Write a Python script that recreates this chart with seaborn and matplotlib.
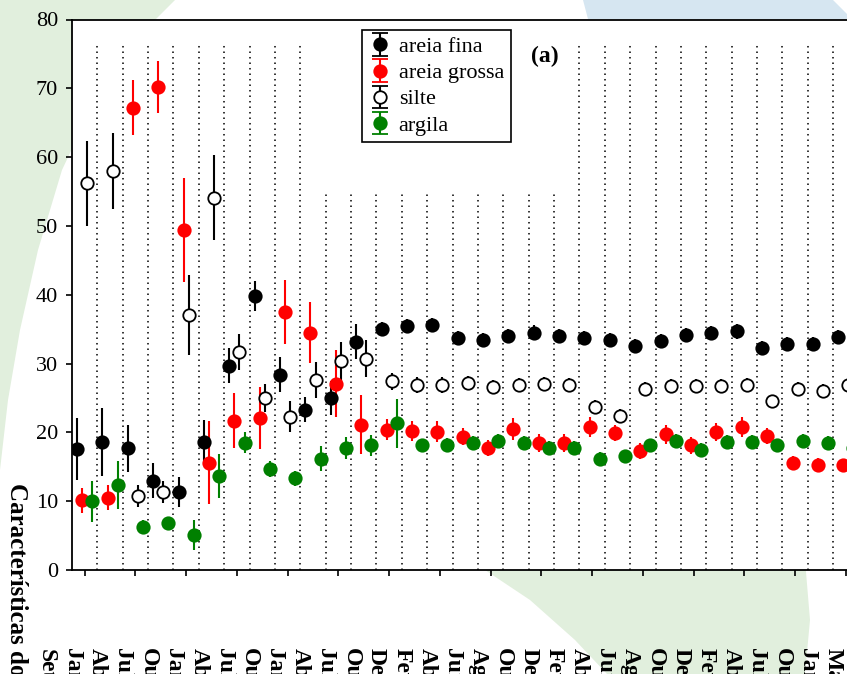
import numpy as np
import pandas as pd
import matplotlib
matplotlib.use("Agg")
import matplotlib.pyplot as plt
import seaborn as sns
from matplotlib.patches import Polygon
from matplotlib.transforms import blended_transform_factory

# ---------------- data ----------------
campaign_labels = ["Jan", "Abr", "Jul", "Out", "Jan", "Abr", "Jul", "Out", "Jan", "Abr",
                   "Jul", "Out", "Dez", "Fev", "Abr", "Jun", "Ago", "Out", "Dez", "Fev",
                   "Abr", "Jun", "Ago", "Out", "Dez", "Fev", "Abr", "Jul", "Out", "Jan", "Mar"]
first_label = "Set"

areia_fina = [17.6, 18.6, 17.7, 13.0, 11.3, 18.6, 29.7, 39.8, 28.4, 23.3, 25.0,
              33.2, 35.0, 35.5, 35.6, 33.7, 33.4, 34.0, 34.5, 34.0, 33.7,
              33.4, 32.6, 33.3, 34.2, 34.4, 34.7, 32.3, 32.9, 32.8, 33.9]
areia_fina_err = [4.5, 4.9, 3.4, 2.6, 2.2, 3.2, 2.5, 2.2, 2.6, 1.8, 2.5,
                  2.6, 1.0, 1.0, 1.0, 1.0, 1.0, 1.0, 1.1, 1.0, 1.0,
                  1.0, 1.0, 1.0, 1.0, 1.0, 1.1, 1.0, 1.0, 1.0, 1.0]

areia_grossa = [10.1, 10.5, 67.2, 70.2, 49.4, 15.6, 21.7, 22.1, 37.5, 34.5, 27.1,
                21.1, 20.4, 20.2, 20.1, 19.4, 17.7, 20.5, 18.5, 18.5, 20.8,
                19.9, 17.3, 19.7, 18.1, 20.1, 20.8, 19.5, 15.6, 15.3, 15.2]
areia_grossa_err = [1.8, 1.8, 4.0, 3.8, 7.5, 6.0, 4.0, 4.5, 4.7, 4.4, 4.9,
                    4.3, 1.5, 1.5, 1.5, 1.2, 1.2, 1.6, 1.3, 1.3, 1.5,
                    1.2, 1.2, 1.4, 1.2, 1.3, 1.4, 1.2, 1.0, 1.0, 1.0]

silte = [56.2, 58.0, 10.8, 11.4, 37.0, 54.1, 31.7, 25.0, 22.3, 27.6, 30.3,
         30.7, 27.4, 26.9, 26.9, 27.2, 26.6, 26.9, 27.1, 26.9, 23.7,
         22.4, 26.3, 26.8, 26.7, 26.7, 26.9, 24.5, 26.3, 26.0, 26.9]
silte_err = [6.2, 5.5, 1.6, 1.6, 5.8, 6.2, 2.6, 2.1, 2.2, 2.6, 2.8,
             2.7, 1.3, 1.2, 1.2, 1.0, 1.0, 1.0, 1.0, 1.0, 1.0,
             1.0, 1.0, 1.0, 1.0, 1.0, 1.0, 1.0, 1.0, 1.0, 1.0]

argila = [10.0, 12.4, 6.3, 6.8, 5.1, 13.6, 18.5, 14.7, 13.3, 16.2, 17.8,
          18.1, 21.3, 18.1, 18.2, 18.5, 18.8, 18.5, 17.8, 17.8, 16.1,
          16.5, 18.1, 18.8, 17.4, 18.6, 18.6, 18.1, 18.8, 18.5, 17.7]
argila_err = [3.0, 3.5, 0.9, 0.8, 2.2, 3.2, 1.5, 1.2, 1.1, 1.8, 1.6,
              1.5, 3.6, 1.0, 1.0, 1.0, 1.0, 1.0, 1.0, 1.0, 1.0,
              1.0, 1.0, 1.0, 1.0, 1.0, 1.0, 1.0, 1.0, 1.0, 1.0]

series_names = ["areia fina", "areia grossa", "silte", "argila"]

# ---------------- style ----------------
sns.set_theme(style="ticks")
plt.rcParams["font.family"] = ["Liberation Serif", "DejaVu Serif"]
plt.rcParams["axes.edgecolor"] = "black"
plt.rcParams["xtick.color"] = "black"
plt.rcParams["ytick.color"] = "black"
plt.rcParams["text.color"] = "black"

W, H = 847, 674
fig = plt.figure(figsize=(W / 100, H / 100), dpi=100)
fig.patch.set_facecolor("white")


def px(points):
    return [(x / W, 1 - y / H) for x, y in points]


green_wm = "#e1efdd"
blue_wm = "#d6e6f1"
fig.add_artist(Polygon(px([(0, 0), (175, 0), (130, 45), (95, 100), (62, 170), (38, 250),
                           (20, 330), (8, 400), (0, 470)]),
                       closed=True, fc=green_wm, ec="none", zorder=-5,
                       transform=fig.transFigure))
fig.add_artist(Polygon(px([(470, 560), (530, 600), (575, 640), (607, 674), (805, 674),
                           (810, 620), (805, 560)]),
                       closed=True, fc=green_wm, ec="none", zorder=-5,
                       transform=fig.transFigure))
fig.add_artist(Polygon(px([(583, 0), (588, 19), (847, 19), (847, 14), (833, 0)]),
                       closed=True, fc=blue_wm, ec="none", zorder=-5,
                       transform=fig.transFigure))

unit = 25.37
ax = fig.add_axes([72 / W, (H - 570) / H, 31 * unit / W, (570 - 19.5) / H])
ax.set_facecolor("white")

# dotted separators between campaigns
for b in range(1, len(campaign_labels)):
    top = 55.0 if 10 <= b <= 19 else 76.5
    ax.vlines(b, 0, top, colors="black", linestyles=(0, (1, 2.6)),
              linewidth=1.1, zorder=1)

x_idx = np.arange(len(areia_fina))
styles = {
    "areia fina": dict(vals=areia_fina, errs=areia_fina_err, off=0.2, face="black", edge="black"),
    "areia grossa": dict(vals=areia_grossa, errs=areia_grossa_err, off=0.4, face="red", edge="red"),
    "silte": dict(vals=silte, errs=silte_err, off=0.6, face="white", edge="black"),
    "argila": dict(vals=argila, errs=argila_err, off=0.8, face="#008000", edge="#008000"),
}

handles = []
for name in series_names:
    st = styles[name]
    xs = x_idx + st["off"]
    ax.errorbar(xs, st["vals"], yerr=st["errs"], fmt="none", ecolor=st["edge"],
                elinewidth=1.5, capsize=0, zorder=2)
    df = pd.DataFrame({"x": xs, "y": st["vals"]})
    sns.scatterplot(data=df, x="x", y="y", ax=ax, s=80, color=st["face"],
                    edgecolor=st["edge"], linewidth=1.3, zorder=3, legend=False)
    h = ax.errorbar([np.nan], [np.nan], yerr=[1.0], fmt="o", color=st["edge"],
                    mfc=st["face"], mec=st["edge"], ms=9, mew=1.3, capsize=6,
                    elinewidth=1.5, capthick=1.5, label=name)
    handles.append(h)

ax.set_xlim(0, 31)
ax.set_ylim(0, 80)
ax.set_xlabel("")
ax.set_ylabel("")

ax.set_yticks(np.arange(0, 81, 10))
ax.tick_params(axis="y", direction="out", length=4, width=1.2, labelsize=16, pad=6)

ax.set_xticks(np.arange(0.5, 31, 2))
ax.set_xticklabels([])
ax.tick_params(axis="x", which="major", direction="out", length=4, width=1.2)
ax.set_xticks(np.arange(0, len(campaign_labels)), minor=True)
ax.set_xticklabels(campaign_labels, minor=True, fontweight="bold", fontsize=17)
ax.tick_params(axis="x", which="minor", length=0, pad=56, labelrotation=-90)

for sp in ax.spines.values():
    sp.set_linewidth(1.3)
    sp.set_color("black")

trans = blended_transform_factory(ax.transData, fig.transFigure)
ax.text(-1, 1 - 649 / H, first_label, transform=trans, rotation=-90, ha="center",
        va="top", fontsize=17, fontweight="bold", clip_on=False)

leg = ax.legend(handles=handles, labels=series_names, loc="upper left",
                bbox_to_anchor=(362 / W, 1 - 30 / H), bbox_transform=fig.transFigure,
                frameon=True, fancybox=False, edgecolor="black", framealpha=1,
                prop={"size": 16}, borderpad=0.3, labelspacing=0.25,
                handlelength=1.0, handletextpad=0.35, borderaxespad=0)
leg.get_frame().set_linewidth(1.2)

fig.text(545 / W, 1 - 56 / H, "(a)", ha="center", va="center", fontsize=17,
         fontweight="bold")
fig.text(17 / W, 1 - 483 / H, "Características do solo (%)", rotation=-90,
         ha="center", va="top", fontsize=18, fontweight="bold")

fig.savefig("out.png", dpi=100)
